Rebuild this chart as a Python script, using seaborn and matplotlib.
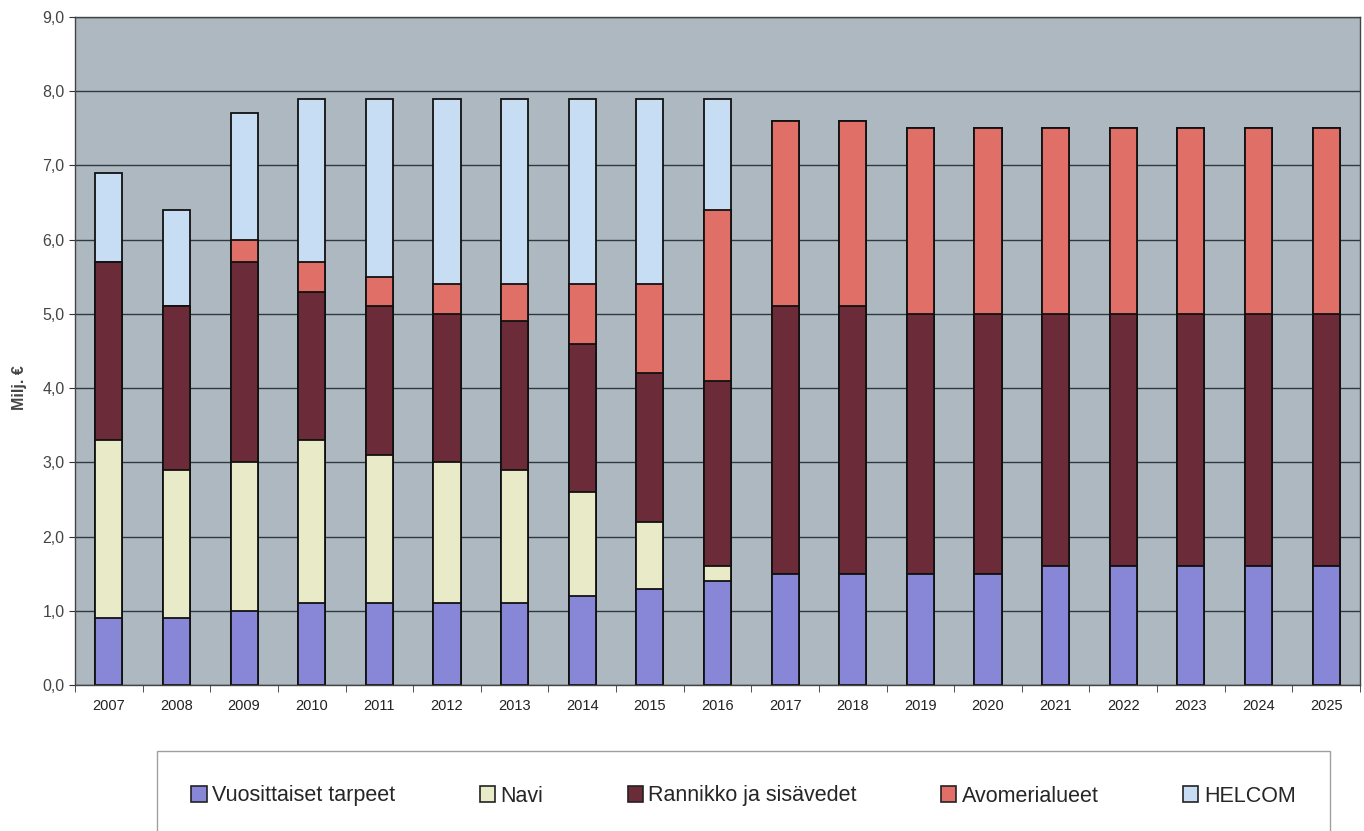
import matplotlib.pyplot as plt
import seaborn as sns
import numpy as np
from matplotlib.patches import Patch

years = [str(y) for y in range(2007, 2026)]
vuosittaiset = [0.9, 0.9, 1.0, 1.1, 1.1, 1.1, 1.1, 1.2, 1.3, 1.4, 1.5, 1.5, 1.5, 1.5, 1.6, 1.6, 1.6, 1.6, 1.6]
navi = [2.4, 2.0, 2.0, 2.2, 2.0, 1.9, 1.8, 1.4, 0.9, 0.2, 0, 0, 0, 0, 0, 0, 0, 0, 0]
rannikko = [2.4, 2.2, 2.7, 2.0, 2.0, 2.0, 2.0, 2.0, 2.0, 2.5, 3.6, 3.6, 3.5, 3.5, 3.4, 3.4, 3.4, 3.4, 3.4]
avomeri = [0, 0, 0.3, 0.4, 0.4, 0.4, 0.5, 0.8, 1.2, 2.3, 2.5, 2.5, 2.5, 2.5, 2.5, 2.5, 2.5, 2.5, 2.5]
helcom = [1.2, 1.3, 1.7, 2.2, 2.4, 2.5, 2.5, 2.5, 2.5, 1.5, 0, 0, 0, 0, 0, 0, 0, 0, 0]

series_names = ["Vuosittaiset tarpeet", "Navi", "Rannikko ja sisävedet", "Avomerialueet", "HELCOM"]
colors = ["#8886d6", "#e9ebc8", "#6c2b38", "#e06f67", "#c6ddf3"]
ytick_values = [0, 1, 2, 3, 4, 5, 6, 7, 8, 9]
ytick_labels = ["0,0", "1,0", "2,0", "3,0", "4,0", "5,0", "6,0", "7,0", "8,0", "9,0"]

sns.set_style("ticks")
plt.rcParams['font.family'] = ['Liberation Sans', 'DejaVu Sans']

fig = plt.figure(figsize=(13.64, 8.31), dpi=100)
ax = fig.add_axes([75 / 1364, 146 / 831, 1285 / 1364, 668 / 831])
ax.set_facecolor("#adb8c0")

# stacked bars: draw cumulative totals, tallest first
stack = np.cumsum(np.array([vuosittaiset, navi, rannikko, avomeri, helcom]), axis=0)
for i in range(len(series_names) - 1, -1, -1):
    sns.barplot(x=years, y=stack[i], color=colors[i], edgecolor="#111111",
                linewidth=1.3, width=0.4, saturation=1, ax=ax)

ax.set_ylim(0, 9)
ax.set_xlim(-0.5, len(years) - 0.5)
ax.set_yticks(ytick_values)
ax.set_yticklabels(ytick_labels, fontsize=11.5, color="#444444")
ax.set_axisbelow(True)
ax.yaxis.grid(True, color="#2f3a40", linewidth=1)
ax.xaxis.grid(False)

ax.tick_params(axis="x", which="major", length=0, labelsize=10.5, pad=10, labelcolor="#222222")
ax.set_xticks(np.arange(-0.5, len(years)), minor=True)
ax.tick_params(axis="x", which="minor", length=5, color="#333333")
ax.tick_params(axis="y", length=4, color="#333333")

for s in ax.spines.values():
    s.set_color("#444444")
    s.set_linewidth(1)

ax.set_xlabel("")
ax.set_ylabel("Milj. €", fontsize=11.5, fontweight="bold", color="#444444")
ax.yaxis.set_label_coords(-0.037, 0.445)

handles = [Patch(facecolor=c, edgecolor="#222222", linewidth=1.2) for c in colors]
leg = fig.legend(handles, series_names, loc="center",
                 bbox_to_anchor=(157 / 1364, -10 / 831, 1173 / 1364, 90 / 831),
                 mode="expand", ncol=5, fontsize=15.5, frameon=True, fancybox=False,
                 handlelength=0.7, handleheight=0.7, handletextpad=0.25,
                 borderpad=1.6, borderaxespad=0)
leg.get_frame().set_edgecolor("#888888")
leg.get_frame().set_linewidth(1)

fig.savefig("out.png", dpi=100)
